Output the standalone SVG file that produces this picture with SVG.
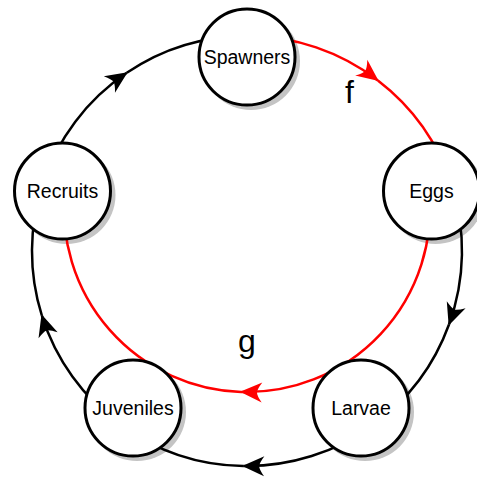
<svg xmlns="http://www.w3.org/2000/svg" width="477" height="478" viewBox="0 0 477 478">
<defs>
<style>
.edge{fill:none;stroke:#000;stroke-width:2.5}
.red{fill:none;stroke:#ff0000;stroke-width:2.5}
.shadow{fill:#c4c4c4;stroke:none}
.node{fill:#fff;stroke:#000;stroke-width:3}
.lbl{font-family:"Liberation Sans",Arial,sans-serif;font-size:19.5px;fill:#000;text-anchor:middle}
.big{font-family:"Liberation Sans",Arial,sans-serif;font-size:32px;fill:#000;text-anchor:middle}
</style>
<marker id="ab" viewBox="-24 -12 26 24" refX="0" refY="0" markerWidth="26" markerHeight="24" markerUnits="userSpaceOnUse" orient="auto">
<path d="M1,0 L-21,-10 Q-16,-3 -16,0 Q-16,3 -21,10 Z" fill="#000"/>
</marker>
<marker id="ar" viewBox="-24 -12 26 24" refX="0" refY="0" markerWidth="26" markerHeight="24" markerUnits="userSpaceOnUse" orient="auto">
<path d="M1,0 L-21,-10 Q-16,-3 -16,0 Q-16,3 -21,10 Z" fill="#ff0000"/>
</marker>
</defs>
<g id="shadows">
<circle class="shadow" cx="251" cy="61" r="49"/>
<circle class="shadow" cx="435.5" cy="195.1" r="49"/>
<circle class="shadow" cx="365" cy="412" r="49"/>
<circle class="shadow" cx="137" cy="412" r="49"/>
<circle class="shadow" cx="66.5" cy="195.1" r="49"/>
</g>
<g id="connectors">
<path class="edge" d="M42.5,184.6 A215,215 0 0 1 126.8,72.8" marker-end="url(#ab)"/>
<path class="edge" d="M126.8,72.8 A215,215 0 0 1 247,36"/>
<path class="red" d="M247,36 A215,215 0 0 1 377.9,80.4" marker-end="url(#ar)"/>
<path class="red" d="M377.9,80.4 A215,215 0 0 1 451.5,184.6"/>
<path class="edge" d="M451.5,184.6 A215,215 0 0 1 449,324.5" marker-end="url(#ab)"/>
<path class="edge" d="M449,324.5 A215,215 0 0 1 373.4,424.9"/>
<path class="edge" d="M373.4,424.9 A215,215 0 0 1 243.2,466" marker-end="url(#ab)"/>
<path class="edge" d="M243.2,466 A215,215 0 0 1 120.6,424.9"/>
<path class="edge" d="M120.6,424.9 A215,215 0 0 1 41.8,315.3" marker-end="url(#ab)"/>
<path class="edge" d="M41.8,315.3 A215,215 0 0 1 42.5,184.6"/>
<path class="red" d="M429.1,191.1 A183,183 0 0 1 241,391.9" marker-end="url(#ar)"/>
<path class="red" d="M241,391.9 A183,183 0 0 1 64.9,191.1"/>
<text class="big" x="349.5" y="103">f</text>
<text class="big" x="247" y="352">g</text>
</g>
<g id="spawners">
<circle class="node" cx="247" cy="57" r="48"/>
<text class="lbl" x="247" y="64">Spawners</text>
</g>
<g id="eggs">
<circle class="node" cx="431.5" cy="191.1" r="48"/>
<text class="lbl" x="431.5" y="198">Eggs</text>
</g>
<g id="larvae">
<circle class="node" cx="361" cy="408" r="48"/>
<text class="lbl" x="361" y="415">Larvae</text>
</g>
<g id="juveniles">
<circle class="node" cx="133" cy="408" r="48"/>
<text class="lbl" x="133" y="415">Juveniles</text>
</g>
<g id="recruits">
<circle class="node" cx="62.5" cy="191.1" r="48"/>
<text class="lbl" x="62.5" y="198">Recruits</text>
</g>
</svg>
